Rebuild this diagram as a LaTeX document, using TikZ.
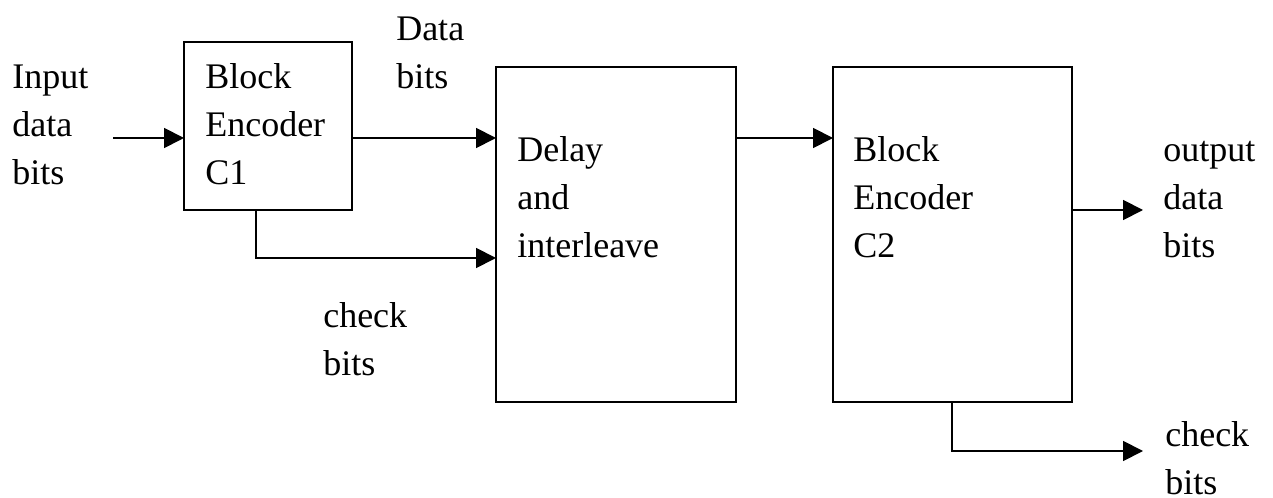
\documentclass[tikz,border=0pt]{standalone}
\usepackage{fontspec}
\setmainfont{Liberation Serif}
\usetikzlibrary{arrows.meta}
\newcommand\lines[1]{\vtop{\halign{##\hfil\cr#1\crcr}}}
\tikzset{
  box/.style={draw, line width=1.4pt, inner sep=0pt, outer sep=0pt},
  arr/.style={line width=1.4pt, -{Triangle[length=15pt,width=15pt]}},
  lbl/.style={anchor=base west, inner sep=0pt, font=\fontsize{27}{36}\selectfont}
}
\begin{document}
\begin{tikzpicture}[x=0.75pt,y=-0.75pt]
\useasboundingbox (0,0) rectangle (1273,498);
% boxes
\node[box, minimum width=126pt, minimum height=126pt] (b1) at (268,126) {};
\node[box, minimum width=180pt, minimum height=251.25pt] (b2) at (616,234.5) {};
\node[box, minimum width=179.25pt, minimum height=251.25pt] (b3) at (952.5,234.5) {};
% texts
\node[lbl] (tin) at (12,89) {\lines{Input\cr data\cr bits}};
\node[lbl] (tb1) at (205,89) {\lines{Block\cr Encoder\cr C1}};
\node[lbl] (tdata) at (396,41) {\lines{Data\cr bits}};
\node[lbl] (tb2) at (517,162) {\lines{Delay\cr and\cr interleave}};
\node[lbl] (tchk1) at (323,328) {\lines{check\cr bits}};
\node[lbl] (tb3) at (853,162) {\lines{Block\cr Encoder\cr C2}};
\node[lbl] (tout) at (1163,162) {\lines{output\cr data\cr bits}};
\node[lbl] (tchk2) at (1165,446) {\lines{check\cr bits}};
% connector points
\coordinate (inA) at (113,138);
\coordinate (c1) at (256,258);
\coordinate (oT) at (1143,210);
\coordinate (c2) at (952,451);
\coordinate (c2T) at (1143,451);
% connectors
\draw[arr] (inA) -- (inA -| b1.west);
\draw[arr] (inA -| b1.east) -- (inA -| b2.west);
\draw[arr] (b1.south -| c1) -- (c1) -- (c1 -| b2.west);
\draw[arr] (inA -| b2.east) -- (inA -| b3.west);
\draw[arr] (oT -| b3.east) -- (oT);
\draw[arr] (b3.south -| c2) -- (c2) -- (c2T);
\end{tikzpicture}
\end{document}
